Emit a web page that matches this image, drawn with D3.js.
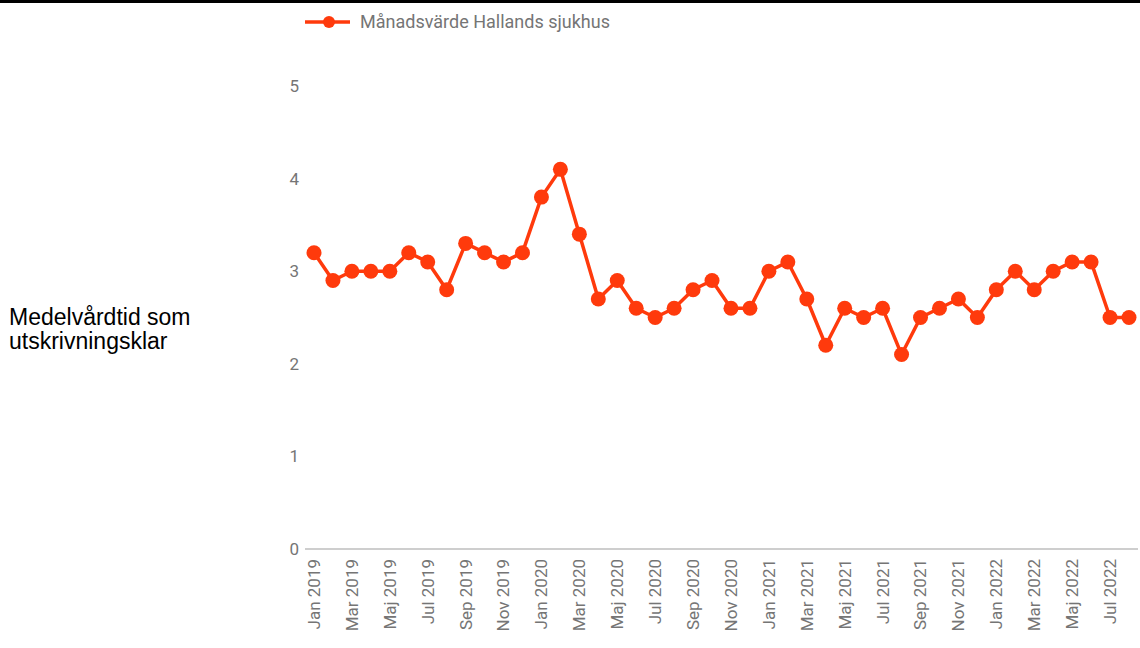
<!DOCTYPE html>
<html>
<head>
<meta charset="utf-8">
<script src="https://cdn.jsdelivr.net/npm/d3@7"></script>
<style>
  html, body { margin: 0; padding: 0; background: #fff; }
  svg { display: block; }
</style>
</head>
<body>
<svg id="chart" width="1140" height="648"></svg>
<script>
// Monthly mean length of stay while ready for discharge, Hallands sjukhus
const months = [
  "Jan 2019","Feb 2019","Mar 2019","Apr 2019","Maj 2019","Jun 2019","Jul 2019","Aug 2019","Sep 2019","Okt 2019","Nov 2019","Dec 2019",
  "Jan 2020","Feb 2020","Mar 2020","Apr 2020","Maj 2020","Jun 2020","Jul 2020","Aug 2020","Sep 2020","Okt 2020","Nov 2020","Dec 2020",
  "Jan 2021","Feb 2021","Mar 2021","Apr 2021","Maj 2021","Jun 2021","Jul 2021","Aug 2021","Sep 2021","Okt 2021","Nov 2021","Dec 2021",
  "Jan 2022","Feb 2022","Mar 2022","Apr 2022","Maj 2022","Jun 2022","Jul 2022","Aug 2022"
];
const values = [
  3.2, 2.9, 3.0, 3.0, 3.0, 3.2, 3.1, 2.8, 3.3, 3.2, 3.1, 3.2,
  3.8, 4.1, 3.4, 2.7, 2.9, 2.6, 2.5, 2.6, 2.8, 2.9, 2.6, 2.6,
  3.0, 3.1, 2.7, 2.2, 2.6, 2.5, 2.6, 2.1, 2.5, 2.6, 2.7, 2.5,
  2.8, 3.0, 2.8, 3.0, 3.1, 3.1, 2.5, 2.5
];
const yTicks = [0, 1, 2, 3, 4, 5];
const seriesName = "Månadsvärde Hallands sjukhus";
const yTitle = ["Medelvårdtid som", "utskrivningsklar"];

const color = "#ff3a0c";
const svg = d3.select("#chart");

// top rule
svg.append("rect").attr("x", 0).attr("y", 0).attr("width", 1140).attr("height", 3).attr("fill", "#000");

const x = d3.scalePoint().domain(months).range([314, 1129]);
const y = d3.scaleLinear().domain([0, 5]).range([549, 86]);

// y tick labels
svg.append("g").selectAll("text").data(yTicks).join("text")
  .attr("x", 299).attr("y", d => y(d)).attr("dy", "0.35em")
  .attr("text-anchor", "end")
  .attr("font-family", "Roboto, sans-serif").attr("font-size", 17)
  .attr("fill", "#757575")
  .text(d => d);

// baseline
svg.append("line").attr("x1", 305).attr("x2", 1138)
  .attr("y1", y(0)).attr("y2", y(0))
  .attr("stroke", "#9e9e9e").attr("stroke-width", 1.2);

// x labels every second month
const xLabels = months.filter((d, i) => i % 2 === 0);
svg.append("g").selectAll("text").data(xLabels).join("text")
  .attr("transform", d => `translate(${x(d)},559) rotate(-90)`)
  .attr("dy", "0.35em")
  .attr("text-anchor", "end")
  .attr("font-family", "Roboto, sans-serif").attr("font-size", 17)
  .attr("fill", "#757575")
  .text(d => d);

// series line
const line = d3.line().x((d, i) => x(months[i])).y(d => y(d));
svg.append("path").datum(values)
  .attr("d", line).attr("fill", "none")
  .attr("stroke", color).attr("stroke-width", 3.5).attr("stroke-linejoin", "round");

svg.append("g").selectAll("circle").data(values).join("circle")
  .attr("cx", (d, i) => x(months[i])).attr("cy", d => y(d))
  .attr("r", 7.5).attr("fill", color);

// legend
const lg = svg.append("g");
lg.append("line").attr("x1", 305).attr("x2", 350).attr("y1", 22).attr("y2", 22)
  .attr("stroke", color).attr("stroke-width", 3.5);
lg.append("circle").attr("cx", 329).attr("cy", 22).attr("r", 6).attr("fill", color);
lg.append("text").attr("x", 360).attr("y", 22).attr("dy", "0.35em")
  .attr("font-family", "Roboto, sans-serif").attr("font-size", 18)
  .attr("fill", "#757575").text(seriesName);

// y title
svg.append("text")
  .attr("font-family", "'Liberation Sans', Arial, sans-serif").attr("font-size", 23)
  .attr("fill", "#000")
  .selectAll("tspan").data(yTitle).join("tspan")
  .attr("x", 9).attr("y", (d, i) => 325 + i * 24)
  .text(d => d);
</script>
</body>
</html>
